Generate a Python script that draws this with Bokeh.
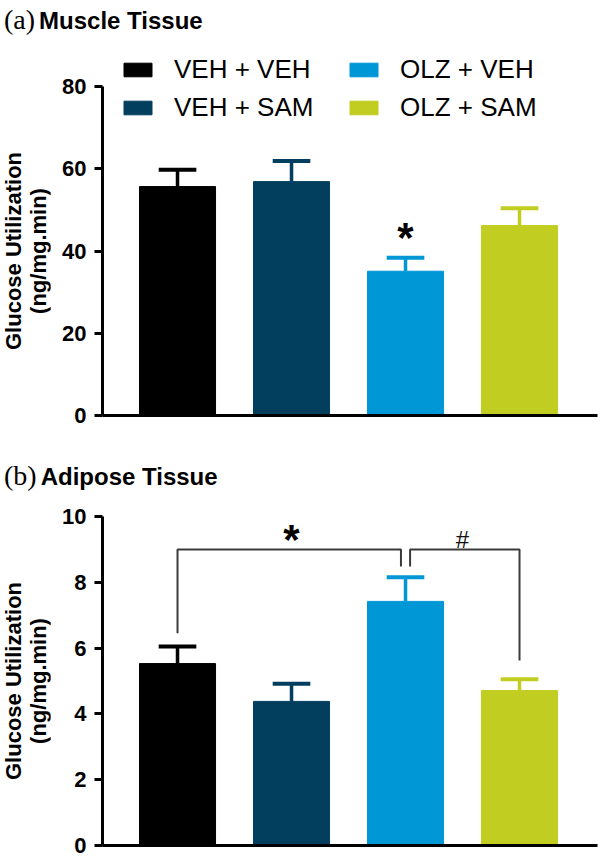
from bokeh.plotting import figure
from bokeh.models import ColumnDataSource, Range1d, FixedTicker, Div
from bokeh.layouts import column, row
from bokeh.embed import file_html
from bokeh.resources import INLINE
from bokeh.core.properties import value

# ---------------- data ----------------
groups = ["VEH + VEH", "VEH + SAM", "OLZ + VEH", "OLZ + SAM"]
colors = ["#000000", "#023f5f", "#0097d7", "#c2cd21"]

muscle_mean = [55.7, 56.9, 35.1, 46.2]
muscle_sem = [4.1, 5.0, 3.3, 4.2]
muscle_ticks = [0, 20, 40, 60, 80]
muscle_sig_groups = ["OLZ + VEH"]
muscle_sig_text = ["*"]
muscle_sig_y = [43.2]

adipose_mean = [5.53, 4.38, 7.42, 4.71]
adipose_sem = [0.52, 0.54, 0.73, 0.34]
adipose_ticks = [0, 2, 4, 6, 8, 10]
bracket_pairs = [("VEH + VEH", "OLZ + VEH"), ("OLZ + VEH", "OLZ + SAM")]
bracket_top = [9.0, 9.0]
bracket_left_drop = [6.45, 8.48]
bracket_right_drop = [8.48, 5.62]
bracket_text = ["*", "#"]
bracket_text_y = [9.29, 9.3]

y_label_lines = ["Glucose Utilization", "(ng/mg.min)"]
SANS = "Liberation Sans"
SERIF = "Liberation Serif"
W = 600
LAB_W = 50


def heading(letter, title, height, pad_top):
    html = (
        f'<div style="padding-left:4px;padding-top:{pad_top}px;line-height:1;'
        f'white-space:nowrap;color:black">'
        f'<span style="font-family:\'{SERIF}\';font-size:28px">{letter}</span>'
        f'<span style="font-family:\'{SANS}\';font-weight:bold;font-size:24px;'
        f'margin-left:4px">{title}</span></div>'
    )
    return Div(text=html, width=W, height=height, margin=0)


def y_label_div(height, center_y):
    html = (
        f'<div style="position:relative;width:{LAB_W}px;height:{height}px;">'
        f'<div style="position:absolute;left:26px;top:{center_y}px;'
        f'transform:translate(-50%,-50%) rotate(-90deg);white-space:nowrap;'
        f'text-align:center;font-family:\'{SANS}\';font-weight:bold;'
        f'font-size:22px;line-height:25px;color:black">'
        + "<br>".join(y_label_lines) +
        '</div></div>'
    )
    return Div(text=html, width=LAB_W, height=height, margin=0)


def make_panel(means, sems, ticks, y_end, height, b_top, b_bottom, show_legend):
    xs = list(range(len(groups)))
    tops = [m + s for m, s in zip(means, sems)]
    src = ColumnDataSource(dict(
        x=xs, group=groups, color=colors, top=means, err=tops,
        cap_l=[x - 0.165 for x in xs], cap_r=[x + 0.165 for x in xs]))
    p = figure(width=W - LAB_W, height=height,
               x_range=Range1d(-0.658, 3.684), y_range=Range1d(ticks[0], y_end),
               output_backend="svg", toolbar_location=None,
               min_border_left=102 - LAB_W, min_border_right=3,
               min_border_top=b_top, min_border_bottom=b_bottom)
    kw = dict(legend_field="group") if show_legend else {}
    p.vbar(x="x", top="top", bottom=0, width=0.667, color="color",
           source=src, **kw)
    p.segment(x0="x", y0="top", x1="x", y1="err", line_color="color",
              line_width=3.5, source=src)
    p.segment(x0="cap_l", y0="err", x1="cap_r", y1="err",
              line_color="color", line_width=4, source=src)

    p.xgrid.visible = False
    p.ygrid.visible = False
    p.outline_line_color = None

    ya = p.yaxis[0]
    ya.ticker = FixedTicker(ticks=ticks)
    ya.bounds = (ticks[0], ticks[-1])
    ya.axis_line_width = 3
    ya.major_tick_line_width = 3
    ya.major_tick_out = 8
    ya.major_tick_in = 0
    ya.minor_tick_out = 0
    ya.minor_tick_in = 0
    ya.major_label_standoff = 8
    ya.major_label_text_font = SANS
    ya.major_label_text_font_style = "bold"
    ya.major_label_text_font_size = "22px"
    ya.major_label_text_color = "black"

    xa = p.xaxis[0]
    xa.ticker = FixedTicker(ticks=[])
    xa.axis_line_width = 3
    xa.major_tick_out = 0
    xa.major_tick_in = 0
    xa.minor_tick_out = 0
    xa.minor_tick_in = 0
    xa.major_label_text_font_size = "0px"
    xa.major_label_standoff = 0

    if show_legend:
        lg = p.legend[0]
        lg.location = (18, 292)
        lg.orientation = "vertical"
        lg.nrows = 2
        lg.glyph_width = 35
        lg.glyph_height = 17
        lg.label_standoff = 19
        lg.label_width = 165
        lg.label_text_font = SANS
        lg.label_text_font_size = "26px"
        lg.label_text_color = "black"
        lg.spacing = 7
        lg.padding = 0
        lg.margin = 0
        lg.border_line_color = None
        lg.background_fill_alpha = 0
    return p


head_a = heading("(a)", "Muscle Tissue", 40, 6)
pa = make_panel(muscle_mean, muscle_sem, muscle_ticks, 88.8, 400, 10, 25, True)
idx = [groups.index(g) for g in muscle_sig_groups]
pa.text(x=idx, y=muscle_sig_y, text=muscle_sig_text, text_font=value(SANS),
        text_font_style="bold", text_font_size="42px", text_align="center",
        text_baseline="alphabetic", text_color="black")
lab_a = y_label_div(400, 211)

head_b = heading("(b)", "Adipose Tissue", 50, 22)
pb = make_panel(adipose_mean, adipose_sem, adipose_ticks, 10, 367, 26, 12, False)
gap = 0.04
bx, by, tx = [], [], []
for k, (g0, g1) in enumerate(bracket_pairs):
    i0, i1 = groups.index(g0), groups.index(g1)
    x0 = i0 + (gap if k > 0 else 0)
    x1 = i1 - (gap if k == 0 else 0)
    bx.append([x0, x0, x1, x1])
    by.append([bracket_left_drop[k], bracket_top[k], bracket_top[k], bracket_right_drop[k]])
    tx.append((i0 + i1) / 2)
pb.multi_line(xs=bx, ys=by, line_color="#3a3a3a", line_width=2)
pb.text(x=tx[:1], y=bracket_text_y[:1], text=bracket_text[:1],
        text_font=value(SANS), text_font_style="bold", text_font_size="42px",
        text_align="center", text_baseline="alphabetic", text_color="black")
pb.text(x=tx[1:], y=bracket_text_y[1:], text=bracket_text[1:],
        text_font=value(SANS), text_font_size="24px",
        text_align="center", text_baseline="alphabetic", text_color="#111111")
lab_b = y_label_div(367, 191)

layout = column(head_a, row(lab_a, pa, spacing=0), head_b,
                row(lab_b, pb, spacing=0), spacing=0)
open("out.html", "w").write(file_html(layout, INLINE))
